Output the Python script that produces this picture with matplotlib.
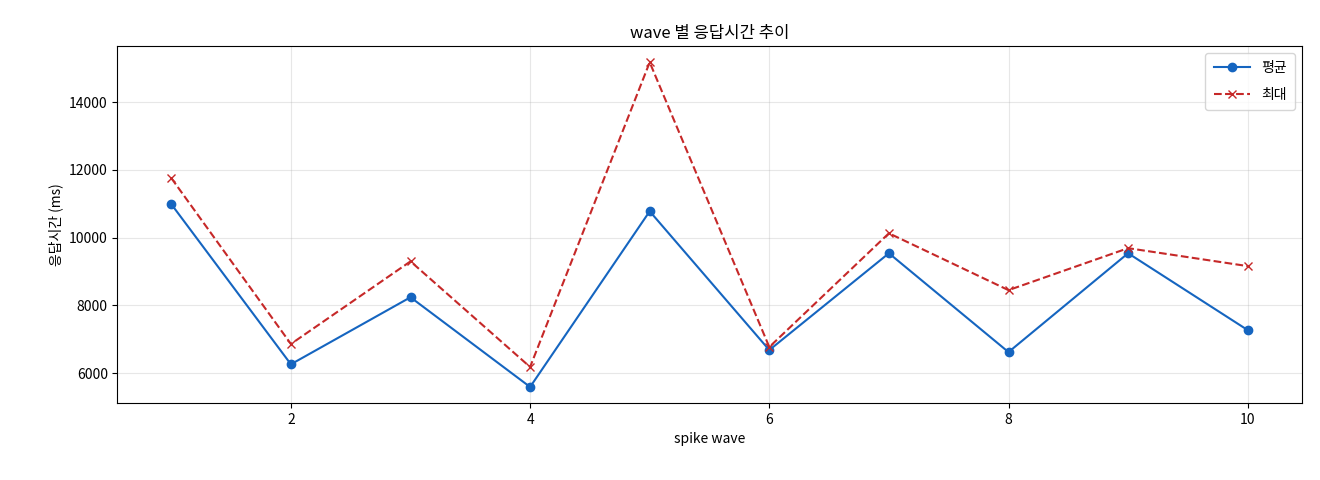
import matplotlib
matplotlib.use('Agg')
import matplotlib.pyplot as plt

plt.rcParams['font.family'] = ['Noto Sans CJK KR', 'DejaVu Sans']

# spike wave 별 응답시간 (ms)
waves = [1, 2, 3, 4, 5, 6, 7, 8, 9, 10]
avg_ms = [10990, 6260, 8240, 5590, 10780, 6680, 9540, 6620, 9540, 7270]
max_ms = [11760, 6860, 9300, 6180, 15180, 6770, 10130, 8450, 9690, 9160]

fig, ax = plt.subplots(figsize=(13.2, 4.8), dpi=100)
ax.plot(waves, avg_ms, color='#1565c0', marker='o', linestyle='-', label='평균')
ax.plot(waves, max_ms, color='#c62828', marker='x', linestyle='--', label='최대')

ax.set_title('wave 별 응답시간 추이')
ax.set_xlabel('spike wave')
ax.set_ylabel('응답시간 (ms)')
ax.grid(True, alpha=0.3)
ax.legend(loc='upper right', handlelength=2.6, labelspacing=0.9, borderpad=0.6)

plt.subplots_adjust(left=0.089, right=0.986, top=0.904, bottom=0.16)
plt.savefig('out.png')
